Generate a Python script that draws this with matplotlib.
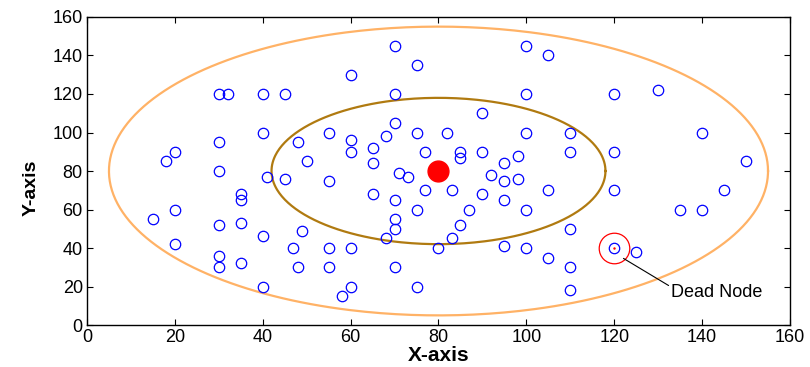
import numpy as np
import matplotlib
matplotlib.use("Agg")
import matplotlib.pyplot as plt

plt.rcParams['font.family'] = ['Liberation Sans', 'DejaVu Sans']

# sensor node positions
node_x = [30, 32, 40, 45, 40, 30, 48, 20, 18, 50, 55, 30, 41, 45, 55,
          35, 35, 20, 15, 30, 35, 40, 49, 20, 47, 55, 30, 30, 35, 48, 55, 40,
          70, 100, 105, 75, 60, 70, 100, 90, 70, 60, 60, 68, 75, 82, 100,
          65, 65, 77, 85, 85, 90, 98, 95, 71, 73, 92, 95, 98,
          65, 70, 77, 83, 90, 95, 105, 75, 87, 100, 70, 70, 85, 68, 83,
          60, 80, 95, 100, 105, 70, 60, 75, 58,
          120, 130, 110, 140, 110, 120, 150,
          120, 145, 135, 140, 110, 125, 110, 110, 120]
node_y = [120, 120, 120, 120, 100, 95, 95, 90, 85, 85, 100, 80, 77, 76, 75,
          68, 65, 60, 55, 52, 53, 46, 49, 42, 40, 40, 36, 30, 32, 30, 30, 20,
          145, 145, 140, 135, 130, 120, 120, 110, 105, 96, 90, 98, 100, 100, 100,
          92, 84, 90, 90, 87, 90, 88, 84, 79, 77, 78, 75, 76,
          68, 65, 70, 70, 68, 65, 70, 60, 60, 60, 55, 50, 52, 45, 45,
          40, 40, 41, 40, 35, 30, 20, 20, 15,
          120, 122, 100, 100, 90, 90, 85,
          70, 70, 60, 60, 50, 38, 30, 18, 40]

# base station and coverage rings
sink = (80, 80)
outer_r = 75
inner_r = 38
dead = (120, 40)

fig = plt.figure(figsize=(8.1, 3.67), dpi=100)
ax = fig.add_axes([0.1074, 0.1144, 0.8679, 0.8393])

t = np.linspace(0, 2 * np.pi, 400)
ax.plot(sink[0] + outer_r * np.cos(t), sink[1] + outer_r * np.sin(t),
        color='#FFB266', lw=1.6)
ax.plot(sink[0] + inner_r * np.cos(t), sink[1] + inner_r * np.sin(t),
        color='#B07A10', lw=1.6)

ax.plot(node_x, node_y, 'o', mfc='none', mec='blue', ms=7.5, mew=0.9, ls='none')
ax.plot(*sink, 'o', color='red', ms=15)

ax.plot(*dead, 'o', mfc='none', mec='red', ms=22, mew=0.9)
ax.plot(*dead, '.', color='red', ms=1.5)
ax.annotate('Dead Node', xy=(122.1, 34.6), xytext=(133, 17),
            fontsize=13, va='center', ha='left',
            arrowprops=dict(arrowstyle='-', color='black', lw=0.8,
                            shrinkA=0, shrinkB=0, relpos=(0, 0.8)))

ax.set_xlim(0, 160)
ax.set_ylim(0, 160)
ax.set_xticks(range(0, 161, 20))
ax.set_yticks(range(0, 161, 20))
ax.tick_params(direction='in', top=True, right=True, labelsize=13, length=4,
               pad=3)
for s in ax.spines.values():
    s.set_linewidth(1.0)
ax.set_xlabel('X-axis', fontsize=15, fontweight='bold', labelpad=0)
ax.set_ylabel('Y-axis', fontsize=14, fontweight='bold')
ax.yaxis.set_label_coords(-0.068, 0.445)

plt.savefig('out.png', dpi=100)
plt.close()
